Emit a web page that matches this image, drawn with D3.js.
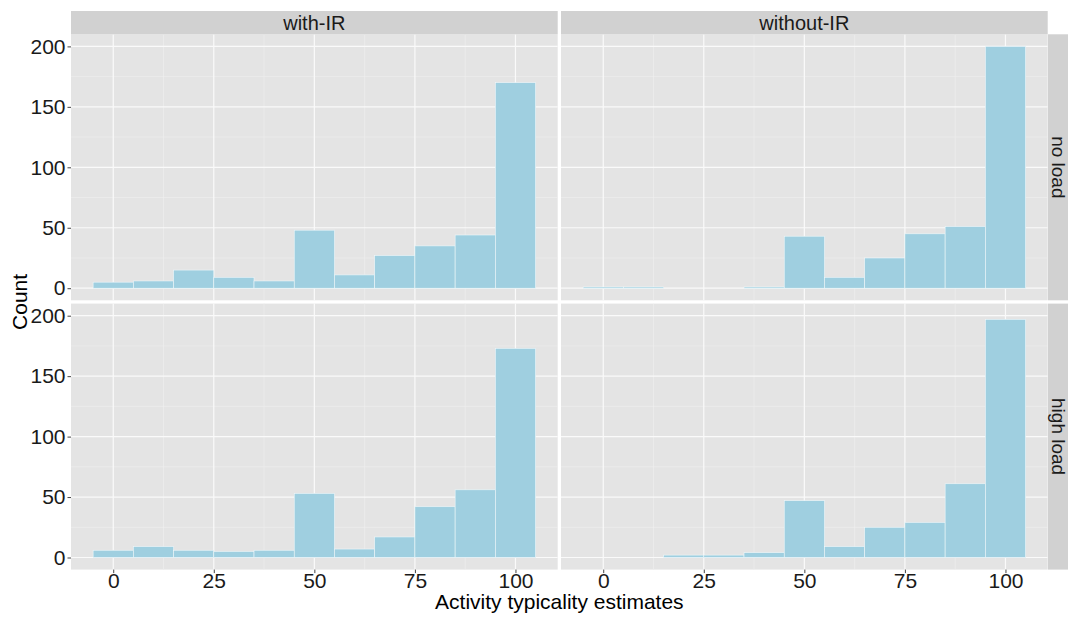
<!DOCTYPE html>
<html>
<head>
<meta charset="utf-8">
<script src="https://cdn.jsdelivr.net/npm/d3@7"></script>
<style>
  body { margin: 0; background: #fff; }
  text { font-family: "Liberation Sans", Arial, sans-serif; }
</style>
</head>
<body>
<div id="chart"></div>
<script>
// histogram bins (centres, width 10)
var bin_centers = [0, 10, 20, 30, 40, 50, 60, 70, 80, 90, 100];
var bin_width = 10;
var col_labels = ['with-IR', 'without-IR'];
var row_labels = ['no load', 'high load'];
var x_ticks = [0, 25, 50, 75, 100];
var y_ticks = [0, 50, 100, 150, 200];

var withIR_noload     = [5, 6, 15, 9, 6, 48, 11, 27, 35, 44, 170];
var withoutIR_noload  = [1, 1, 0, 0, 1, 43, 9, 25, 45, 51, 200];
var withIR_highload   = [6, 9, 6, 5, 6, 53, 7, 17, 42, 56, 173];
var withoutIR_highload = [0, 0, 2, 2, 4, 47, 9, 25, 29, 61, 197];

var panels = [
  {row: 0, col: 0, values: withIR_noload},
  {row: 0, col: 1, values: withoutIR_noload},
  {row: 1, col: 0, values: withIR_highload},
  {row: 1, col: 1, values: withoutIR_highload}
];

var width = 1068, height = 617;
var panel_left = 71, panel_top = 34.3;
var pw = 486.7, ph = 266, gap = 3.3;
var strip_h = 23.3;

var svg = d3.select('#chart').append('svg')
    .attr('width', width)
    .attr('height', height);

var x = d3.scaleLinear().domain([-10.5, 110.5]).range([0, pw]);
var y = d3.scaleLinear().domain([-10, 210]).range([ph, 0]);

var minor_x = [12.5, 37.5, 62.5, 87.5];
var minor_y = [25, 75, 125, 175];

panels.forEach(function(p) {
  var px = panel_left + p.col * (pw + gap),
      py = panel_top + p.row * (ph + gap);
  var g = svg.append('g').attr('transform', 'translate(' + px + ',' + py + ')');

  g.append('rect').attr('width', pw).attr('height', ph).attr('fill', '#e4e4e4');

  // grid
  minor_y.forEach(function(v) {
    g.append('line').attr('x1', 0).attr('x2', pw).attr('y1', y(v)).attr('y2', y(v))
      .attr('stroke', '#f0f0f0').attr('stroke-width', 0.6);
  });
  minor_x.forEach(function(v) {
    g.append('line').attr('y1', 0).attr('y2', ph).attr('x1', x(v)).attr('x2', x(v))
      .attr('stroke', '#f0f0f0').attr('stroke-width', 0.6);
  });
  y_ticks.forEach(function(v) {
    g.append('line').attr('x1', 0).attr('x2', pw).attr('y1', y(v)).attr('y2', y(v))
      .attr('stroke', '#fafafa').attr('stroke-width', 1.2);
  });
  x_ticks.forEach(function(v) {
    g.append('line').attr('y1', 0).attr('y2', ph).attr('x1', x(v)).attr('x2', x(v))
      .attr('stroke', '#fafafa').attr('stroke-width', 1.2);
  });

  // bars
  g.selectAll('rect.bar')
    .data(bin_centers.map(function(c, i) { return {c: c, n: p.values[i]}; }))
    .enter().append('rect')
      .attr('class', 'bar')
      .attr('x', function(d) { return x(d.c - bin_width / 2); })
      .attr('width', x(bin_width) - x(0))
      .attr('y', function(d) { return y(d.n); })
      .attr('height', function(d) { return y(0) - y(d.n); })
      .attr('fill', '#9fcfe0')
      .attr('stroke', '#eef7fa')
      .attr('stroke-width', 0.6);

  // y axis on left column
  if (p.col === 0) {
    var ya = g.append('g').call(d3.axisLeft(y).tickValues(y_ticks).tickSize(3.5).tickPadding(2));
    ya.select('.domain').remove();
    ya.selectAll('line').attr('stroke', '#444');
    ya.selectAll('text').style('font-size', '21px').attr('fill', '#1a1a1a');
  }
  // x axis on bottom row
  if (p.row === 1) {
    var xa = g.append('g').attr('transform', 'translate(0,' + ph + ')')
      .call(d3.axisBottom(x).tickValues(x_ticks).tickSize(3.5).tickPadding(0));
    xa.select('.domain').remove();
    xa.selectAll('line').attr('stroke', '#444');
    xa.selectAll('text').style('font-size', '21px').attr('fill', '#1a1a1a');
  }
});

// column strips
col_labels.forEach(function(lab, i) {
  var sx = panel_left + i * (pw + gap);
  svg.append('rect').attr('x', sx).attr('y', panel_top - strip_h)
    .attr('width', pw).attr('height', strip_h).attr('fill', '#d1d1d1');
  svg.append('text').attr('x', sx + pw / 2).attr('y', panel_top - strip_h / 2 + 7)
    .attr('text-anchor', 'middle').style('font-size', '20px').attr('fill', '#1a1a1a')
    .text(lab);
});

// row strips
row_labels.forEach(function(lab, i) {
  var sy = panel_top + i * (ph + gap);
  var sx = panel_left + 2 * pw + gap + 0.3;
  svg.append('rect').attr('x', sx).attr('y', sy)
    .attr('width', 30).attr('height', ph).attr('fill', '#d1d1d1');
  svg.append('text')
    .attr('transform', 'translate(' + (sx + 3.5) + ',' + (sy + ph / 2) + ') rotate(90)')
    .attr('text-anchor', 'middle').style('font-size', '19px').attr('fill', '#1a1a1a')
    .text(lab);
});

// axis titles
svg.append('text')
  .attr('x', panel_left + pw + gap / 2).attr('y', 609)
  .attr('text-anchor', 'middle').style('font-size', '21px').attr('fill', '#000')
  .text('Activity typicality estimates');
svg.append('text')
  .attr('transform', 'translate(27,' + (panel_top + ph + gap / 2) + ') rotate(-90)')
  .attr('text-anchor', 'middle').style('font-size', '21px').attr('fill', '#000')
  .text('Count');
</script>
</body>
</html>
